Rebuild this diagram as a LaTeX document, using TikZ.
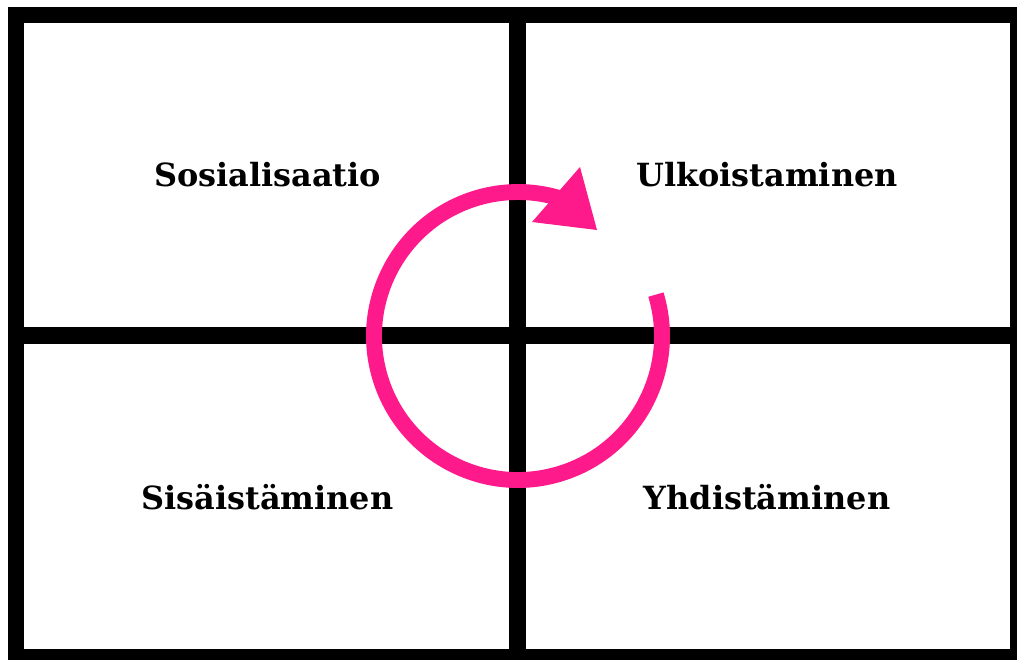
\documentclass[tikz,border=0pt]{standalone}
\usepackage{fontspec}
\setmainfont{DejaVu Serif}

\begin{document}
\begin{tikzpicture}[x=0.025cm, y=0.025cm,
    quadLabel/.style={font=\bfseries\fontsize{22.7}{26}\selectfont, anchor=base}]
    \def\lineW{11.6pt}

    \definecolor{gridColour}{HTML}{000000}
    \definecolor{cycleColour}{HTML}{FF1A8C}

    \useasboundingbox (0,0) rectangle (1017,659);
    \clip (0,0) rectangle (1017,659);

    % Frame corners
    \coordinate (TL) at (16,644);
    \coordinate (BR) at (1018,2);
    \coordinate (C) at (517.5,323.5);

    % Grid
    \draw[gridColour, line width=\lineW] (TL) rectangle (BR);
    \draw[gridColour, line width=\lineW] (C |- TL) -- (C |- BR);
    \draw[gridColour, line width=\lineW] (C -| TL) -- (C -| BR);

    % Quadrant labels
    \node[quadLabel] (socialisation) at (267.5,472) {Sosialisaatio};
    \node[quadLabel] (externalisation) at (767,472) {Ulkoistaminen};
    \node[quadLabel] (internalisation) at (267.5,150) {Sisäistäminen};
    \node[quadLabel] (combination) at (767,150) {Yhdistäminen};

    % Cycle arrow
    \coordinate (O) at (518,323);
    \draw[cycleColour, line width=11.3pt] (O) ++(16.7:144) arc[start angle=16.7, end angle=-287, radius=144];
    \fill[cycleColour] (580,492) -- (532,437) -- (597,429) -- cycle;

\end{tikzpicture}
\end{document}
